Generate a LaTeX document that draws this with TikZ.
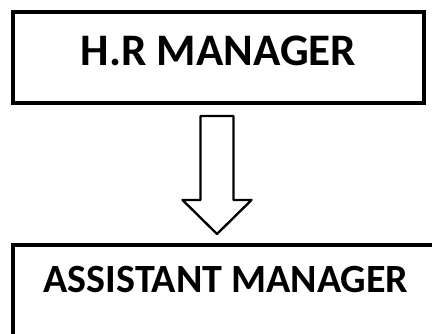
\documentclass[tikz,border=0pt]{standalone}
\usepackage{fontspec}
\setmainfont{Carlito}
\usetikzlibrary{calc}

\begin{document}
\begin{tikzpicture}[
    x=0.03cm, y=-0.03cm,
    post/.style = {draw, rectangle, line width=3.4pt, inner sep=0pt, fill=white, anchor=base},
    blockarrow/.style = {draw, line width=2pt, fill=white, line join=round}
]
    \useasboundingbox (0,0) rectangle (432,333);
    \clip (0,0) rectangle (432,333);

    % Nodes
    \node [post, font=\fontsize{38.5}{42}\selectfont\bfseries,
           minimum width=411*0.03cm, text height=53*0.03cm, text depth=38*0.03cm] (hr) at (218.5,65) {H.R MANAGER};
    \node [post, font=\fontsize{34.2}{40}\selectfont\bfseries,
           minimum width=426*0.03cm, text height=47*0.03cm, text depth=63*0.03cm] (am) at (226,292) {ASSISTANT MANAGER};

    % Arrow between the posts
    \coordinate (top) at ($(hr.south)+(-1.5,11)$);
    \coordinate (tip) at ($(top)+(0,118)$);
    \draw [blockarrow] ($(top)+(-16.5,0)$) -- ++(0,84) -- ++(-18,0) -- (tip)
        -- ++(34.5,-34) -- ++(-18,0) -- ++(0,-84) -- cycle;

\end{tikzpicture}
\end{document}
